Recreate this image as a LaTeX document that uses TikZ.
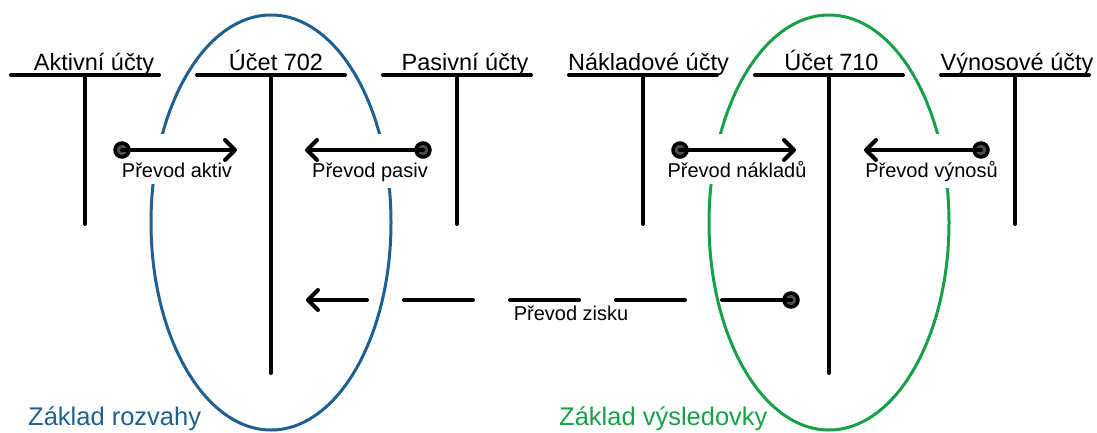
\documentclass[tikz,border=0pt]{standalone}
\usepackage{fontspec}
\setmainfont{Liberation Sans}
\usetikzlibrary{arrows.meta,shapes.geometric,fit}
\pgfdeclarelayer{ovals}
\pgfdeclarelayer{masks}
\pgfsetlayers{ovals,masks,main}
\definecolor{rozblue}{RGB}{31,95,145}
\definecolor{vysgreen}{RGB}{24,160,72}
\begin{document}
\begin{tikzpicture}[x=1pt,y=-1pt,
  acct/.style={line width=4pt, line cap=round},
  head/.style={font=\fontsize{23.5}{28}\selectfont, anchor=base, inner sep=0pt},
  lab/.style={font=\fontsize{20}{24}\selectfont, anchor=base, inner sep=0pt},
  foot/.style={font=\fontsize{25.5}{28}\selectfont, anchor=base west, inner sep=0pt},
  oval/.style={ellipse, draw, line width=3pt, minimum width=240pt, minimum height=415pt, inner sep=0pt},
  dotnode/.style={circle, draw=black, fill=black!70, line width=3.5pt, minimum size=14pt, inner sep=0pt},
  transfer/.style={line width=4pt, line cap=round, -{Straight Barb[round,length=10pt,width=20pt]}},
  mask/.style={fill=white, draw=none, inner xsep=2pt, inner ysep=7pt}
]
\useasboundingbox (0,0) rectangle (1097,432);

% T accounts
\foreach \n/\x/\t/\b/\dx in {A/85/Aktivní účty/224/9, B/271/Účet 702/373/5, P/457/Pasivní účty/224/8, N/643/Nákladové účty/224/5.5, V/829/Účet 710/373/2.5, W/1015/Výnosové účty/224/2}{
  \coordinate (\n-top) at (\x,75);
  \coordinate (\n-l) at (\x-74,75);
  \coordinate (\n-r) at (\x+74,75);
  \coordinate (\n-bot) at (\x,\b);
  \draw[acct] (\n-l) -- (\n-r);
  \draw[acct] (\n-top) -- (\n-bot);
  \node[head] (\n-name) at (\x+\dx,70) {\t};
}

% ovals
\begin{pgfonlayer}{ovals}
\node[oval, draw=rozblue] (ovalB) at (271,222.5) {};
\node[oval, draw=vysgreen] (ovalV) at (829,222.5) {};
\end{pgfonlayer}

% transfers
\node[dotnode] (dA) at (122,150) {};
\coordinate (tA) at (237,150);
\node[lab] (lA) at (177,177) {Převod aktiv};
\draw[transfer] (dA.center) -- (tA);

\node[dotnode] (dP) at (423,150) {};
\coordinate (tP) at (305,150);
\node[lab] (lP) at (370,177) {Převod pasiv};
\draw[transfer] (dP.center) -- (tP);

\node[dotnode] (dN) at (680,150) {};
\coordinate (tN) at (796,150);
\node[lab] (lN) at (737,177) {Převod nákladů};
\draw[transfer] (dN.center) -- (tN);

\node[dotnode] (dW) at (981,150) {};
\coordinate (tW) at (864,150);
\node[lab] (lW) at (931.5,177) {Převod výnosů};
\draw[transfer] (dW.center) -- (tW);

\node[dotnode] (dZ) at (791,300) {};
\coordinate (tZ) at (306,300);
\node[lab] (lZ) at (571,320) {Převod zisku};
\draw[transfer, dash pattern=on 69pt off 37pt] (dZ.center) -- (tZ);

\begin{pgfonlayer}{masks}
\node[mask, fit=(dA)(tA)(lA)] (mA) {};
\node[mask, fit=(dP)(tP)(lP)] (mP) {};
\node[mask, fit=(dN)(tN)(lN)] (mN) {};
\node[mask, fit=(dW)(tW)(lW)] (mW) {};
\end{pgfonlayer}

% footer labels
\node[foot, text=rozblue] (fB) at (28,425) {Základ rozvahy};
\node[foot, text=vysgreen] (fV) at (559,425) {Základ výsledovky};
\end{tikzpicture}
\end{document}
